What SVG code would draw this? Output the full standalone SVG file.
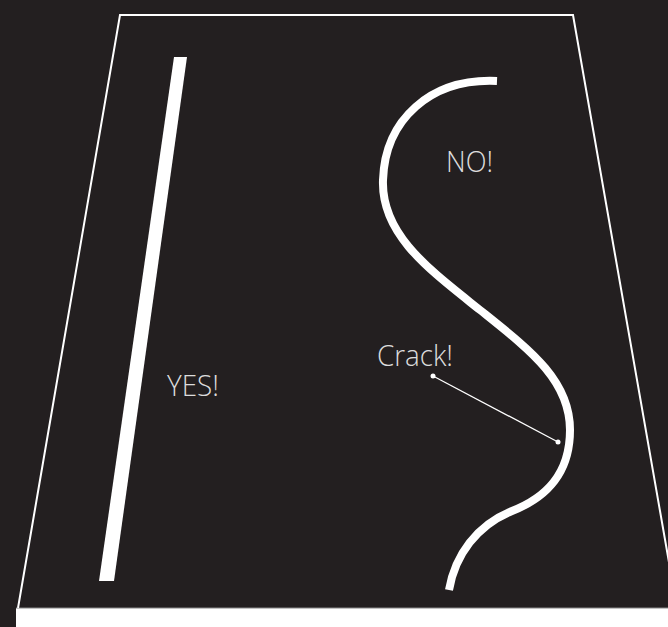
<svg xmlns="http://www.w3.org/2000/svg" width="668" height="627" viewBox="0 0 668 627">
<style>
.lbl{font-family:"Open Sans","Liberation Sans",sans-serif;font-weight:300;font-size:29px;fill:#dcdcdc}
.edge{fill:none;stroke:#fff}
</style>
<rect x="0" y="0" width="668" height="627" fill="#231f20"/>
<rect x="16" y="608" width="652" height="19" fill="#fff"/>
<line x1="16" y1="608" x2="668" y2="608" stroke="#888" stroke-width="1"/>
<g id="frame">
<polyline points="18,608 120,15 573,15 680,625" fill="none" stroke="#fff" stroke-width="2"/>
</g>
<g id="yes">
<polygon points="174,57 187,57 114,581 99,581" fill="#fff"/>
<text class="lbl" x="167" y="396" textLength="52" lengthAdjust="spacingAndGlyphs">YES!</text>
</g>
<g id="no">
<path class="edge" stroke-width="8" d="M497,81 C430,78 385,120 383,180 C381,235 430,270 480,310 C530,350 570,380 570,430 C570,475 545,498 512,511 C477,525 455,555 449,590"/>
<text class="lbl" x="446" y="172" textLength="47" lengthAdjust="spacingAndGlyphs">NO!</text>
</g>
<g id="crack">
<text class="lbl" x="377" y="366" textLength="76" lengthAdjust="spacingAndGlyphs">Crack!</text>
</g>
<g id="connectors">
<line x1="433" y1="376" x2="558" y2="442" stroke="#fff" stroke-width="1.3"/>
<circle cx="433" cy="376" r="2.5" fill="#fff"/>
<circle cx="558" cy="442" r="2.5" fill="#fff"/>
</g>
</svg>
